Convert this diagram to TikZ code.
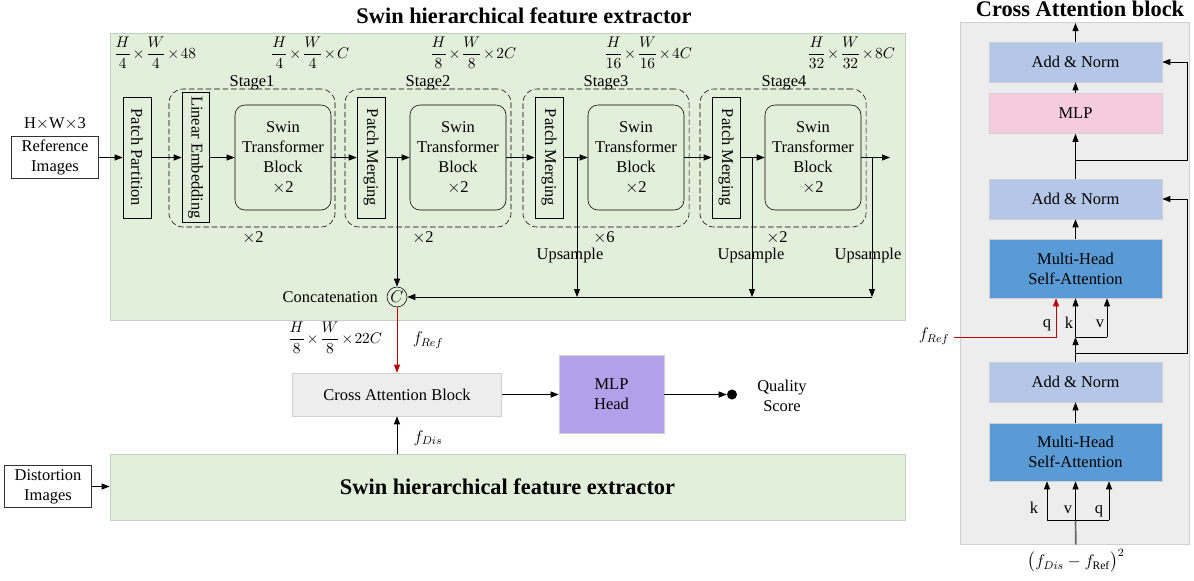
\documentclass[tikz,border=0pt]{standalone}
\usepackage{fontspec}
\setmainfont{Liberation Serif}
\usepackage{amsmath}
\usepackage{tikz}
\usetikzlibrary{arrows.meta, positioning}
\definecolor{featgreen}{HTML}{E2EFDA}
\definecolor{featedge}{HTML}{C5CFC0}
\definecolor{panelgray}{HTML}{EDEDED}
\definecolor{paneledge}{HTML}{D0D0D0}
\definecolor{normblue}{HTML}{B4C7E7}
\definecolor{attnblue}{HTML}{5B9BD5}
\definecolor{mlppink}{HTML}{F5CCDD}
\definecolor{headpurple}{HTML}{B4A0EA}
\definecolor{refred}{HTML}{C00000}
\newcommand{\featdim}[2]{%
    $\medmuskip=1.5mu\dfrac{H}{#1}\times\dfrac{W}{#1}\times #2$%
}

\begin{document}
\begin{tikzpicture}[
        x=0.025cm, y=-0.025cm,
        font=\fontsize{11.7}{14.2}\selectfont,
        extractor/.style={draw=featedge, fill=featgreen, minimum width=19.875cm},
        inbox/.style={draw=black!80, line width=0.7pt, fill=white, align=center,
            minimum width=2.15cm, minimum height=1.05cm, inner sep=1pt},
        slab/.style={draw, rotate=-90, minimum height=0.7cm, inner sep=1pt},
        swin/.style={draw, rounded corners=0.25cm, align=center,
            minimum width=2.4cm, minimum height=2.625cm},
        stagebox/.style={draw, dash pattern=on 4pt off 2pt, rounded corners=0.35cm,
            minimum width=4.15cm, minimum height=3.45cm},
        block/.style={draw=paneledge, align=center, minimum width=4.325cm, minimum height=1cm},
        note/.style={anchor=base, inner sep=0pt},
        dimnote/.style={font=\fontsize{10.5}{12.5}\selectfont, inner sep=0pt},
        title/.style={font=\fontsize{15.9}{18}\selectfont\bfseries},
        arrow/.style={-{Triangle[length=2mm, width=1.5mm]}, line width=0.6pt},
        link/.style={line width=0.6pt}
    ]
        \useasboundingbox (0,0) rectangle (1194,580);

        % reference branch
        \node[extractor, minimum height=7.175cm] (refext) at (507.5,176.5) {};
        \node[title, note] (reftitle) at (524,23) {Swin hierarchical feature extractor};

        \node[inbox] (refimg) at (55,157.5) {Reference\\Images};
        \node[note] (refsize) at (55,128) {H$\times$W$\times$3};
        \node[slab, minimum width=3.025cm] (pp) at (137,157.5) {Patch Partition};

        \node[stagebox] (stage1) at (252,158) {};
        \node[slab, minimum width=3.25cm, minimum height=0.675cm] (le) at (195.5,157.5) {Linear Embedding};
        \node[swin] (swin1) at (283,157.5) {Swin\\Transformer\\Block\\$\times$2};

        \node[stagebox] (stage2) at (428,158) {};
        \node[slab, minimum width=3.025cm] (pm2) at (371,157.5) {Patch Merging};
        \node[swin] (swin2) at (458,157.5) {Swin\\Transformer\\Block\\$\times$2};

        \node[stagebox] (stage3) at (606,158) {};
        \node[slab, minimum width=3.025cm] (pm3) at (549,157.5) {Patch Merging};
        \node[swin] (swin3) at (636,157.5) {Swin\\Transformer\\Block\\$\times$2};

        \node[stagebox] (stage4) at (783,158) {};
        \node[slab, minimum width=3.025cm] (pm4) at (726,157.5) {Patch Merging};
        \node[swin] (swin4) at (813,157.5) {Swin\\Transformer\\Block\\$\times$2};

        \node[note] (stage1lbl) at (252,86) {Stage1};
        \node[note] (stage2lbl) at (428,86) {Stage2};
        \node[note] (stage3lbl) at (606,86) {Stage3};
        \node[note] (stage4lbl) at (784,86) {Stage4};
        \node[note] (rep1) at (253,242) {$\times$2};
        \node[note] (rep2) at (423,242) {$\times$2};
        \node[note] (rep3) at (604,242) {$\times$6};
        \node[note] (rep4) at (777,242) {$\times$2};

        \node[dimnote] (dim0) at (155,53) {\featdim{4}{48}};
        \node[dimnote] (dim1) at (310,53) {\featdim{4}{C}};
        \node[dimnote] (dim2) at (473,53) {\featdim{8}{2C}};
        \node[dimnote] (dim3) at (648,53) {\featdim{16}{4C}};
        \node[dimnote] (dim4) at (851,53) {\featdim{32}{8C}};

        \draw[arrow] (refimg) -- (pp);
        \draw[arrow] (pp) -- (le);
        \draw[arrow] (le) -- (swin1);
        \draw[arrow] (swin1) -- (pm2);
        \draw[arrow] (pm2) -- (swin2);
        \draw[arrow] (swin2) -- (pm3);
        \draw[arrow] (pm3) -- (swin3);
        \draw[arrow] (swin3) -- (pm4);
        \draw[arrow] (pm4) -- (swin4);
        \coordinate (refout) at (890,157.5);
        \draw[arrow] (swin4) -- (refout);

        % upsampling and concatenation
        \node[draw, circle, fill=featgreen, minimum size=0.5cm, inner sep=0pt] (cat) at (397,297) {$C$};
        \node[left=1mm of cat] (catlbl) {Concatenation};
        \coordinate (up2) at (397,157.5);
        \coordinate (up3) at (577,157.5);
        \coordinate (up4) at (752,157.5);
        \coordinate (up5) at (872,157.5);
        \node[note] (uplbl3) at (570,259) {Upsample};
        \node[note] (uplbl4) at (751,259) {Upsample};
        \node[note] (uplbl5) at (868,259) {Upsample};
        \draw[arrow] (up2) -- (cat);
        \draw[arrow] (up3) -- (up3 |- cat);
        \draw[arrow] (up4) -- (up4 |- cat);
        \draw[arrow] (up5) -- (up5 |- cat);
        \draw[arrow] (up5 |- cat) -- (cat);

        % fusion and regression
        \node[dimnote] (dim5) at (335,338) {\featdim{8}{22C}};
        \node[draw=paneledge, fill=panelgray, minimum width=5.225cm, minimum height=1.075cm] (cab) at (397,394.5) {Cross Attention Block};
        \node (freflbl) at (428,340) {$f_{Ref}$};
        \draw[arrow, refred] (cat) -- (cab);
        \node[draw=paneledge, fill=headpurple, align=center, minimum width=2.625cm, minimum height=1.95cm] (mlphead) at (611.5,394.5) {MLP\\Head};
        \node[circle, fill=black, inner sep=0pt, minimum size=0.25cm] (score) at (732,394.5) {};
        \node[align=center] (scorelbl) at (782,396) {Quality\\Score};
        \draw[arrow] (cab) -- (mlphead);
        \draw[arrow] (mlphead) -- (score);

        % distortion branch
        \node[extractor, minimum height=1.65cm, title] (disext) at (507.5,487) {Swin hierarchical feature extractor};
        \node[inbox] (disimg) at (48,486.5) {Distortion\\Images};
        \node (fdislbl) at (428,438) {$f_{Dis}$};
        \draw[arrow] (disimg) -- (disimg -| disext.west);
        \draw[arrow] (cab |- disext.north) -- (cab);

        % cross attention block
        \node[draw=paneledge, fill=panelgray, minimum width=5.725cm, minimum height=13.05cm] (panel) at (1074.5,283) {};
        \node[title, note] (paneltitle) at (1080,16) {Cross Attention block};
        \node[block, fill=normblue] (norm1) at (1075.5,62) {Add \& Norm};
        \node[block, fill=mlppink] (mlp) at (1075.5,113.5) {MLP};
        \node[block, fill=normblue] (norm2) at (1075.5,199) {Add \& Norm};
        \node[block, fill=attnblue, minimum height=1.475cm] (attn1) at (1075.5,268.5) {Multi-Head\\Self-Attention};
        \node[block, fill=normblue] (norm3) at (1075.5,382) {Add \& Norm};
        \node[block, fill=attnblue, minimum height=1.45cm] (attn2) at (1075.5,452) {Multi-Head\\Self-Attention};

        \coordinate (panelout) at (1075.5,23);
        \draw[arrow] (norm1) -- (panelout);
        \draw[arrow] (mlp) -- (norm1);
        \draw[arrow] (norm2) -- (mlp);
        \coordinate (skip1) at (1075.5,160);
        \coordinate (skip1r) at (1187,160);
        \draw[arrow] (skip1) -- (skip1r) |- (norm1);
        \draw[arrow] (attn1) -- (norm2);
        \coordinate (skip2) at (1075.5,353);
        \coordinate (skip2r) at (1187,353);
        \draw[arrow] (skip2) -- (skip2r) |- (norm2);

        \coordinate (kv) at (1075.5,337);
        \coordinate (vin) at (1107,337);
        \coordinate (qin) at (1056,337);
        \draw[arrow] (norm3) -- (kv);
        \draw[link] (kv) -- (vin);
        \draw[arrow] (kv) -- (kv |- attn1.south);
        \draw[arrow] (vin) -- (vin |- attn1.south);
        \node (fref2) at (934,336) {$f_{Ref}$};
        \draw[arrow, refred] (fref2.east |- qin) -| (qin |- attn1.south);
        \node[note] (qlbl1) at (1047,327) {q};
        \node[note] (klbl1) at (1069,328) {k};
        \node[note] (vlbl1) at (1100,327) {v};

        \draw[arrow] (attn2) -- (norm3);
        \node (diff) at (1076,561) {$\big(f_{Dis}-f_{\mathrm{Ref}}\big)^2$};
        \coordinate (split) at (1075.5,520);
        \coordinate (kin) at (1047,520);
        \coordinate (qin2) at (1109,520);
        \draw[link, black!60, line width=1.2pt] (diff) -- (split);
        \draw[link] (kin) -- (qin2);
        \draw[arrow] (kin) -- (kin |- attn2.south);
        \draw[arrow] (split) -- (attn2);
        \draw[arrow] (qin2) -- (qin2 |- attn2.south);
        \node[note] (klbl2) at (1034,513) {k};
        \node[note] (vlbl2) at (1068,513) {v};
        \node[note] (qlbl2) at (1099,513) {q};
    \end{tikzpicture}
\end{document}
